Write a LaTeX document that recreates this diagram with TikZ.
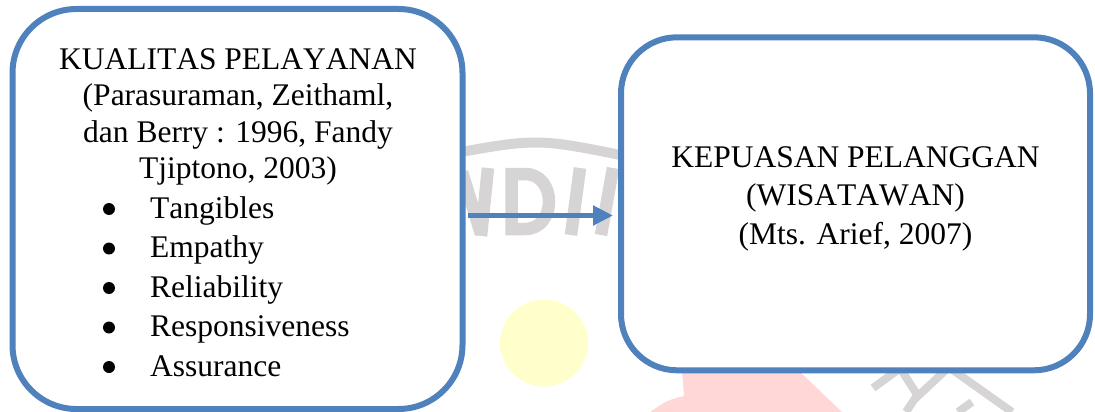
\documentclass[tikz,border=0pt]{standalone}
\usepackage{fontspec}
\setmainfont[Kerning=Off]{Liberation Serif}
\usetikzlibrary{arrows.meta}
\definecolor{boxblue}{RGB}{79,129,189}
\definecolor{wmgray}{RGB}{214,212,212}
\definecolor{wmyellow}{RGB}{255,255,204}
\definecolor{wmpink}{RGB}{255,215,215}
\newcommand\diagfont{\fontsize{31.5}{36}\selectfont}
\begin{document}
\begin{tikzpicture}[x=1pt,y=-1pt,
  roundbox/.style={draw=boxblue, line width=6pt, fill=white, outer sep=3pt, inner sep=0pt},
  txt/.style={font=\diagfont, inner sep=0pt, anchor=base},
  itemtxt/.style={font=\diagfont, inner sep=0pt, anchor=base west},
  bulletdot/.style={circle, fill=black, minimum size=12pt, inner sep=0pt},
  link/.style={draw=boxblue, line width=5.5pt, -{Triangle[length=20pt,width=19pt]}},
  wmline/.style={draw=wmgray, line width=8pt},
  wmstroke/.style={draw=wmgray, line width=12.5pt}
]
\useasboundingbox (0,0) rectangle (1095,412);
% watermark
\fill[wmyellow] (544,343) ellipse [x radius=44pt, y radius=43.5pt];
\fill[wmpink] (682,370) -- (684,396) .. controls (668,400) .. (650,412) -- (842,412) -- (798,370) -- cycle;
\draw[wmline, line width=10pt] (445,155) .. controls (537,138) .. (630,157);
\draw[wmstroke] (462,172) -- (481,234);
\draw[wmstroke] (488,168) -- (481,236);
\draw[wmstroke] (511.5,174) -- (525,174) .. controls (557,174) and (557,229) .. (525,229) -- (511.5,229) -- cycle;
\draw[wmstroke] (580,168) -- (571,235);
\draw[wmstroke] (613,168) -- (601,235);
\draw[wmline] (873,388) -- (902,367);
\draw[wmline] (900,368) -- (918,396) -- (948,368);
\draw[wmline] (918,394) -- (906,412);
\draw[wmline] (950,368) -- (1012,412);
\draw[wmline] (958,412) -- (972,402);
% boxes
\node[roundbox, rounded corners=64pt, minimum width=450pt, minimum height=400pt] (kq) at (237.5,209) {};
\node[roundbox, rounded corners=56pt, minimum width=469pt, minimum height=333pt] (kp) at (855.5,203.8) {};
% left text
\node[txt] (t1) at (238,70) {KUALITAS PELAYANAN};
\node[txt] (t2) at (238,106) {(Parasuraman, Zeithaml,};
\node[txt] (t3) at (238,142) {dan Berry : 1996, Fandy};
\node[txt] (t4) at (238,178) {Tjiptono, 2003)};
\foreach \y/\t/\n in {218/Tangibles/1, 257.5/Empathy/2, 297/Reliability/3, 336.5/Responsiveness/4, 376/Assurance/5}{
  \node[bulletdot] (b\n) at (109,\y-9) {};
  \node[itemtxt] (i\n) at (150,\y) {\t};
}
% right text
\node[txt] (r1) at (855.5,167) {KEPUASAN PELANGGAN};
\node[txt] (r2) at (855.5,205.5) {(WISATAWAN)};
\node[txt] (r3) at (855.5,244) {(Mts. Arief, 2007)};
% connector
\coordinate (as) at ([yshift=-6.5pt]kq.east);
\draw[link, shorten <=2.5pt, shorten >=5pt] (as) -- (as -| kp.west);
\end{tikzpicture}
\end{document}
